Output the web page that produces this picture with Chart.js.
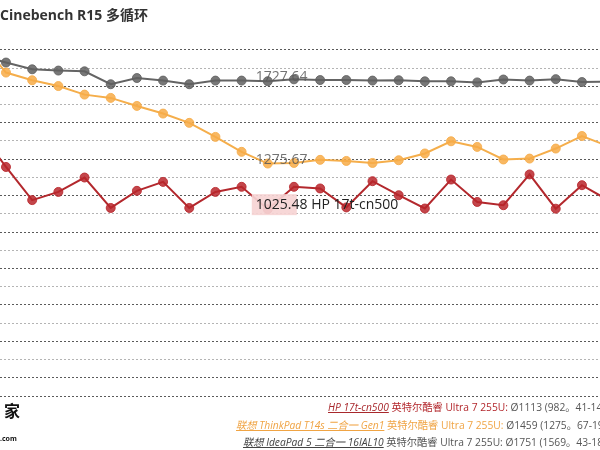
<!DOCTYPE html>
<html>
<head>
<meta charset="utf-8">
<script src="https://cdn.jsdelivr.net/npm/chart.js@4.4.1/dist/chart.umd.min.js"></script>
<style>
  body { margin: 0; background: #fff; overflow: hidden; }
  #wrap { position: relative; width: 600px; height: 450px; overflow: hidden; }
  .leg { position: absolute; white-space: nowrap; line-height: 12px;
         font-size: 10.25px; font-family: "Open Sans", "Noto Sans CJK SC", sans-serif; color: #555; }
  .leg i { text-decoration: underline; }
  #logo { position: absolute; left: 4px; top: 398px; font: bold 16px "Noto Sans CJK SC"; color: #111; }
  #logo2 { position: absolute; left: 0px; top: 434px; font: bold 7px "Noto Sans", sans-serif; color: #111; }
</style>
</head>
<body>
<div id="wrap">
  <canvas id="myChart" width="600" height="450"></canvas>
  <div id="logo">家</div>
  <div id="logo2">.com</div>
</div>
<script>
// nomor putaran (run) dan skor tiap laptop
const runs = [0, 1, 2, 3, 4, 5, 6, 7, 8, 9, 10, 11, 12, 13, 14, 15, 16, 17, 18, 19, 20, 21, 22, 23, 24];
const hp = [1450, 1257, 1075, 1120, 1199, 1032, 1126, 1175, 1032, 1120, 1148, 1025.48, 1148, 1139, 1035, 1179, 1102, 1029, 1188, 1065, 1047, 1216, 1028, 1157, 1075];
const thinkpad = [1950, 1775, 1733, 1701, 1654, 1636, 1592, 1550, 1499, 1422, 1340, 1275.67, 1279, 1296, 1290, 1279, 1294, 1331, 1398, 1367, 1298, 1303, 1358, 1427, 1371];
const ideapad = [1870, 1830, 1793, 1786, 1782, 1711, 1745, 1731, 1711, 1731, 1731, 1727.64, 1738, 1734, 1734, 1731, 1733, 1727, 1727, 1721, 1737, 1731, 1739, 1723, 1725];

const devices = ["HP 17t-cn500", "联想 ThinkPad T14s 二合一 Gen1", "联想 IdeaPad 5 二合一 16IAL10"];
const cpus = ["英特尔酷睿 Ultra 7 255U:", "英特尔酷睿 Ultra 7 255U:", "英特尔酷睿 Ultra 7 255U:"];
const summaries = ["Ø1113 (982。41-1449)", "Ø1459 (1275。67-1950)", "Ø1751 (1569。43-1870)"];
const labelRun = 11;

const lineColors = ["#b3282d", "#f5ae4b", "#646464"];
const pointColors = ["rgba(185,38,44,0.85)", "rgba(247,172,72,0.85)", "rgba(96,96,96,0.85)"];
const deviceColors = ["#a8282c", "#f0a444", "#444"];
const cpuColors = ["#b3282d", "#f0a444", "#555"];

function toPoints(values) {
  return values.map((v, i) => ({ x: runs[i], y: v }));
}

// label nilai pada titik tertentu
const valueLabels = {
  id: 'valueLabels',
  afterDatasetsDraw(chart) {
    const c = chart.ctx;
    c.save();
    c.font = '14px "Open Sans", sans-serif';
    c.textBaseline = 'alphabetic';
    chart.data.datasets.forEach((ds, d) => {
      const el = chart.getDatasetMeta(d).data[labelRun];
      const val = ds.data[labelRun].y.toFixed(2);
      if (d === 0) {
        c.fillStyle = 'rgba(246,212,212,0.92)';
        c.fillRect(el.x - 16, el.y - 15, 45, 21);
        c.fillStyle = '#222';
        c.fillText(val + ' ' + devices[0], el.x - 12, el.y);
      } else {
        c.fillStyle = 'rgba(90,90,90,0.85)';
        c.fillText(val, el.x - 12, el.y);
      }
    });
    c.restore();
  }
};

const ctx = document.getElementById("myChart").getContext("2d");
const chart = new Chart(ctx, {
  type: 'line',
  data: {
    datasets: [hp, thinkpad, ideapad].map((vals, d) => ({
      label: devices[d],
      data: toPoints(vals),
      borderColor: lineColors[d],
      borderWidth: 2,
      backgroundColor: pointColors[d],
      pointBackgroundColor: pointColors[d],
      pointBorderColor: pointColors[d],
      pointBorderWidth: 1,
      pointRadius: 4.5,
      tension: 0,
      fill: false
    }))
  },
  options: {
    responsive: false,
    animation: false,
    events: [],
    layout: { autoPadding: false, padding: { left: 0, right: 0, top: 0, bottom: 54 } },
    scales: {
      x: {
        type: 'linear',
        min: 0.771,
        max: 23.69,
        ticks: { display: false },
        grid: { display: false, drawTicks: false },
        border: { display: false }
      },
      y: {
        min: 0,
        max: 1900,
        ticks: { display: false, stepSize: 100 },
        grid: {
          drawTicks: false,
          lineWidth: 1,
          color: c => (c.tick.value % 200 === 100 || c.tick.value === 0) ? '#5a5a5a' : '#b4b4b4'
        },
        border: { display: false, dash: [2, 2] }
      }
    },
    plugins: {
      legend: { display: false },
      tooltip: { enabled: false },
      title: {
        display: true,
        text: 'Cinebench R15 多循环',
        align: 'start',
        color: '#333',
        font: { family: '"Open Sans", "Noto Sans CJK SC", sans-serif', size: 14, weight: 'bold' },
        padding: { top: 8, bottom: 25 }
      }
    }
  },
  plugins: [valueLabels]
});

// legenda di kanan bawah
const legendLeft = [328, 236, 243];
const legendTop = [401, 419, 436];
const wrap = document.getElementById("wrap");
devices.forEach((name, d) => {
  const div = document.createElement("div");
  div.className = "leg";
  div.style.left = legendLeft[d] + "px";
  div.style.top = legendTop[d] + "px";
  div.innerHTML = '<i style="color:' + deviceColors[d] + '">' + name + '</i> ' +
    '<span style="color:' + cpuColors[d] + '">' + cpus[d] + '</span> ' + summaries[d];
  wrap.appendChild(div);
});
</script>
</body>
</html>
